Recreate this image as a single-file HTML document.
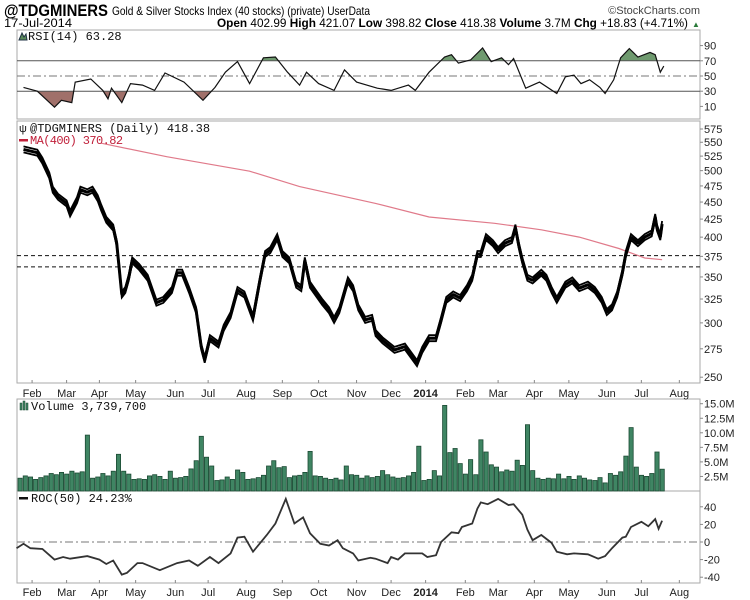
<!DOCTYPE html>
<html><head><meta charset="utf-8">
<style>
body{margin:0;background:#fff;}
svg{display:block;font-family:"Liberation Sans",sans-serif;}
</style></head>
<body>
<svg id="chart" width="750" height="600" viewBox="0 0 750 600">
<g>
<text x="4" y="16" font-size="17" font-weight="bold" fill="#000" textLength="104" lengthAdjust="spacingAndGlyphs">@TDGMINERS</text>
<text x="112" y="15" font-size="12" fill="#000" textLength="258" lengthAdjust="spacingAndGlyphs">Gold &amp; Silver Stocks Index (40 stocks) (private) UserData</text>
<text x="700" y="14" font-size="11" fill="#444" text-anchor="end">©StockCharts.com</text>
<text x="4" y="27" font-size="11.5" fill="#000" textLength="68" lengthAdjust="spacingAndGlyphs">17-Jul-2014</text>
<text x="217" y="27" font-size="11.5" fill="#000" textLength="471" lengthAdjust="spacingAndGlyphs"><tspan font-weight="bold">Open</tspan> 402.99 <tspan font-weight="bold">High</tspan> 421.07 <tspan font-weight="bold">Low</tspan> 398.82 <tspan font-weight="bold">Close</tspan> 418.38 <tspan font-weight="bold">Volume</tspan> 3.7M <tspan font-weight="bold">Chg</tspan> +18.83 (+4.71%)</text>
<text x="692" y="27" font-size="8" fill="#2a7a3a">▲</text>
</g>
<g id="panels"></g>
</svg>
<script>
// ---- data ----
const monthLabels = ["Feb","Mar","Apr","May","Jun","Jul","Aug","Sep","Oct","Nov","Dec","2014","Feb","Mar","Apr","May","Jun","Jul","Aug"];
const monthDays = [7,27,46,67,90,109,131,152,173,195,215,235,258,277,298,318,340,360,382];

const priceDays = [2,10,13,17,19,22,27,29,33,35,39,42,45,47,50,54,56,57,59,61,63,65,69,74,79,83,88,91,94,98,102,105,107,110,115,118,122,126,130,135,139,142,145,149,152,156,160,163,165,168,172,175,179,182,185,190,193,196,200,204,206,210,217,223,230,233,237,241,244,247,251,255,259,262,265,267,270,274,277,281,285,287,289,291,294,297,302,305,308,311,316,320,324,329,333,337,340,343,346,349,351,354,358,362,366,368,369,371,372];
const closes = [537,531,517,492,469,458,448,433,453,469,465,469,456,442,424,413,392,370,330,335,349,370,362,349,321,324,335,355,355,335,313,277,265,285,279,295,308,335,330,305,346,378,383,400,378,370,341,337,370,341,330,322,313,303,313,346,337,316,303,305,290,283,274,277,262,274,285,285,303,324,330,326,337,349,378,378,400,392,383,392,396,413,389,370,349,346,355,349,335,324,341,346,337,341,335,324,311,316,330,355,378,400,392,400,405,428,413,400,418];

const maDays = [46,85,133,162,206,237,275,302,324,347,362,372];
const maValues = [549,524,499,474,448,428,419,410,400,385,373,370.82];

const rsiDays = [2,10,20,24,30,32,41,48,51,53,59,64,71,78,84,95,106,113,119,126,133,141,148,155,162,166,173,182,188,195,207,215,225,229,237,246,250,254,261,268,273,279,283,286,293,301,311,316,321,325,330,336,339,344,348,353,358,365,368,371,373];
const rsiValues = [35,30,9,18,15,42,46,31,20,34,15,40,38,31,54,42,18,35,55,69,40,74,75,55,38,55,40,31,58,42,34,31,38,31,55,75,78,67,71,87,69,74,65,73,34,42,27,49,51,40,45,35,27,45,74,86,75,81,78,55,63];
const rsiTicks = [10,30,50,70,90];

const volValues = [2.2,2.6,2.4,2.0,2.3,2.6,3.0,2.8,3.2,2.9,3.4,3.1,3.3,9.6,2.2,2.4,3.0,2.6,3.4,6.3,3.4,2.9,2.0,2.1,2.0,2.6,2.8,2.5,2.0,3.4,2.2,2.3,2.5,3.8,5.2,9.4,5.8,4.3,1.8,1.9,2.4,2.0,3.6,3.2,2.0,2.1,2.3,2.7,4.3,5.2,4.0,4.2,2.3,2.6,2.7,3.2,6.8,2.6,2.5,2.2,2.0,2.2,1.9,4.3,2.8,2.7,2.2,2.6,2.3,2.5,3.5,2.8,2.4,2.2,2.3,2.6,3.2,7.7,1.8,2.0,3.5,2.6,14.7,6.6,7.3,4.7,2.9,5.4,2.8,8.8,6.7,4.5,4.1,3.3,3.6,3.4,5.3,4.4,11.4,3.5,2.2,2.0,2.2,2.1,2.9,2.1,2.5,2.0,2.6,2.2,1.9,1.8,2.3,1.4,3.0,2.7,3.3,6.0,10.9,4.1,2.7,2.5,3.0,6.7,3.74];
const volStepDays = 3;
const volTicks = [2.5,5.0,7.5,10.0,12.5,15.0];

const rocDays = [-2,2,6,13,20,25,29,39,46,50,54,59,62,68,71,81,91,98,103,110,115,122,126,130,135,143,148,154,159,164,168,174,179,184,187,193,196,203,206,213,215,219,223,233,236,241,244,250,254,256,262,265,267,271,277,283,286,291,294,297,302,308,311,317,321,329,335,339,343,349,351,354,360,364,368,370,372];
const rocValues = [-7,-2,-7,-8,-20,-17,-19,-16,-20,-25,-21,-37,-35,-24,-24,-32,-24,-21,-27,-17,-24,-13,5,6,-11,8,21,49,21,28,10,-2,-4,2,-7,-13,-21,-18,-19,-24,-17,-20,-13,-13,-17,-15,0,11,10,17,21,38,45,43,49,42,43,31,14,2,8,-1,-11,-14,-13,-14,-19,-16,-7,5,6,17,23,18,26,15,24.23];
const rocTicks = [-40,-20,0,20,40];

const priceTicks = [250,275,300,325,350,375,400,425,450,475,500,525,550,575];
const supportLevels = [376,362];

// ---- scales ----
const L = 17, R = 700;
const xs = d => 20 + d * 1.726;
const P = {rsi:[30,119], price:[121,383], vol:[399,491], roc:[491,583]};
const yRsi = v => 76 - (v - 50) * 0.76;
const yPrice = v => 129 + (Math.log(575) - Math.log(v)) * 298;
const yVol = v => 491 - v * 5.82;
const yRoc = v => 542 - v * 0.88;

const NS = "http://www.w3.org/2000/svg";
const root = document.getElementById("panels");
function mk(tag, attrs, parent, text){
  const e = document.createElementNS(NS, tag);
  for (const k in attrs) e.setAttribute(k, attrs[k]);
  if (text !== undefined) e.textContent = text;
  (parent || root).appendChild(e);
  return e;
}
function grp(name){
  const g = mk("g", {});
  
  
  return g;
}

for (const key of ["rsi","price","vol","roc"]) {
  const [t,b] = P[key];
  const f = mk("rect", {x:L, y:t, width:R-L, height:b-t, fill:"none", stroke:"#aaa", "stroke-width":1});
  
  
}

function rightTicks(ticks, yf, fmt, name){
  const g = grp(name);
  ticks.forEach(v => {
    const y = yf(v);
    mk("line", {x1:R, x2:R+3, y1:y, y2:y, stroke:"#888"}, g);
    const t = mk("text", {x:R+4, y:y+4, "font-size":11, fill:"#222"}, g, fmt(v));
    
    
  });
}
function dateAxis(yBottom, yLabel, name){
  const g = grp(name);
  monthDays.forEach((d,i) => {
    const x = xs(d);
    mk("line", {x1:x, x2:x, y1:yBottom-3, y2:yBottom, stroke:"#888"}, g);
    const t = mk("text", {x:x, y:yLabel, "font-size":11, fill:"#222", "text-anchor":"middle", "font-weight": monthLabels[i]==="2014"?"bold":"normal"}, g, monthLabels[i]);
    
    
  });
}
function pathOf(days, vals, yf){
  return days.map((d,i) => (i?"L":"M") + xs(d).toFixed(1) + "," + yf(vals[i]).toFixed(1)).join("");
}

// ---- RSI ----
{
  const g = grp("rsi-panel");
  const defs = mk("defs", {}, g);
  const c1 = mk("clipPath", {id:"above70"}, defs);
  mk("rect", {x:L, y:P.rsi[0], width:R-L, height:yRsi(70)-P.rsi[0]}, c1);
  const c2 = mk("clipPath", {id:"below30"}, defs);
  mk("rect", {x:L, y:yRsi(30), width:R-L, height:P.rsi[1]-yRsi(30)}, c2);
  const line = pathOf(rsiDays, rsiValues, yRsi);
  const x0 = xs(rsiDays[0]), x1 = xs(rsiDays[rsiDays.length-1]);
  const ob = mk("path", {d: line + "L" + x1 + "," + yRsi(70) + "L" + x0 + "," + yRsi(70) + "Z", fill:"#6f9a6f", "clip-path":"url(#above70)"}, g);
  
  
  const os = mk("path", {d: line + "L" + x1 + "," + yRsi(30) + "L" + x0 + "," + yRsi(30) + "Z", fill:"#a0706a", "clip-path":"url(#below30)"}, g);
  
  
  mk("line", {x1:L, x2:R, y1:yRsi(70), y2:yRsi(70), stroke:"#555"}, g);
  mk("line", {x1:L, x2:R, y1:yRsi(30), y2:yRsi(30), stroke:"#555"}, g);
  mk("line", {x1:L, x2:R, y1:yRsi(50), y2:yRsi(50), stroke:"#777", "stroke-dasharray":"8,3,2,3"}, g);
  const l = mk("path", {d: line, fill:"none", stroke:"#111", "stroke-width":1.2}, g);
  
  
  const lbl = mk("text", {x:28, y:40, "font-size":12, fill:"#111", "font-family":"Liberation Mono, monospace"}, g, "RSI(14) 63.28");
  
  
  mk("path", {d:"M19,40 L22,33 L24,37 L26,34 L27,40 Z", fill:"#5a8a5a", stroke:"#234"}, g);
  rightTicks(rsiTicks, yRsi, v => String(v), "rsi-axis");
}

// ---- Price ----
{
  const g = grp("price-panel");
  supportLevels.forEach(v => {
    const s = mk("line", {x1:L, x2:R, y1:yPrice(v), y2:yPrice(v), stroke:"#111", "stroke-dasharray":"4,3"}, g);
    
    
  });
  const ma = mk("path", {d: pathOf(maDays, maValues, yPrice), fill:"none", stroke:"#e07a8a", "stroke-width":1.2}, g);
  
  
  const d = pathOf(priceDays, closes, yPrice);
  [-3, 3].forEach(off => {
    const b = mk("path", {d: d, fill:"none", stroke:"#000", "stroke-width":1.8, transform:"translate(0," + off + ")"}, g);
    
    
  });
  const pl = mk("path", {d: d, fill:"none", stroke:"#000", "stroke-width":3, "stroke-linejoin":"bevel"}, g);
  
  
  const t1 = mk("text", {x:30, y:132, "font-size":12, fill:"#111", "font-family":"Liberation Mono, monospace"}, g, "@TDGMINERS (Daily) 418.38");
  
  
  mk("text", {x:19, y:132, "font-size":11, fill:"#111"}, g, "ψ");
  mk("rect", {x:19, y:139, width:9, height:2.5, fill:"#c0203a"}, g);
  mk("rect", {x:29, y:134, width:72, height:12, fill:"#fff"}, g);
  const t2 = mk("text", {x:30, y:144, "font-size":12, fill:"#c0203a", "font-family":"Liberation Mono, monospace", "letter-spacing":"-0.6"}, g, "MA(400) 370.82");
  
  
  rightTicks(priceTicks, yPrice, v => String(v), "price-axis");
  dateAxis(P.price[1], 397, "price-date-axis");
}

// ---- Volume ----
{
  const g = grp("volume-panel");
  volValues.forEach((v,i) => {
    const x = xs(i*volStepDays);
    const b = mk("rect", {x:(x-2).toFixed(1), y:yVol(v).toFixed(1), width:4.2, height:(491-yVol(v)).toFixed(1), fill:"#3f8563", stroke:"#1c4a34", "stroke-width":0.8}, g);
    
    
  });
  const t = mk("text", {x:31, y:410, "font-size":12, fill:"#111", "font-family":"Liberation Mono, monospace"}, g, "Volume 3,739,700");
  
  
  [0,1,2].forEach(k => mk("rect", {x:20+k*3, y:403+ (k===1?-2:0), width:2, height:7-(k===1?-2:0), fill:"#3f8563", stroke:"#1c4a34", "stroke-width":0.5}, g));
  rightTicks(volTicks, yVol, v => v.toFixed(1) + "M", "volume-axis");
}

// ---- ROC ----
{
  const g = grp("roc-panel");
  mk("line", {x1:L, x2:R, y1:yRoc(0), y2:yRoc(0), stroke:"#777", "stroke-dasharray":"8,3,2,3"}, g);
  const l = mk("path", {d: pathOf(rocDays, rocValues, yRoc), fill:"none", stroke:"#333", "stroke-width":1.8}, g);
  
  
  mk("rect", {x:19, y:497, width:9, height:2.5, fill:"#111"}, g);
  const t = mk("text", {x:31, y:502, "font-size":12, fill:"#111", "font-family":"Liberation Mono, monospace"}, g, "ROC(50) 24.23%");
  
  
  rightTicks(rocTicks, yRoc, v => String(v), "roc-axis");
  dateAxis(P.roc[1], 596, "roc-date-axis");
}
</script>
</body></html>
